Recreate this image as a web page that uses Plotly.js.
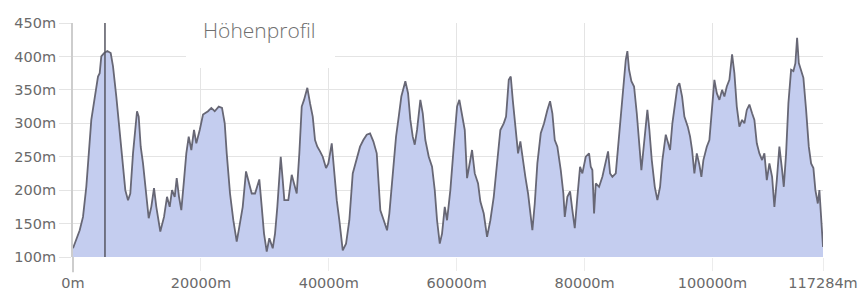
<!DOCTYPE html>
<html>
<head>
<meta charset="utf-8">
<script src="https://cdn.plot.ly/plotly-3.0.1.min.js"></script>
<style>
  html, body { margin: 0; padding: 0; background: #ffffff; }
  #chart { width: 862px; height: 291px; }
</style>
</head>
<body>
<div id="chart"></div>
<script>
// Distance along route (m)
const distance = [
  0, 1048, 1564, 2080, 2862, 3394, 3910, 4176, 4426, 4848, 5365, 5896, 6256, 6772, 7304, 7820,
  8180, 8602, 8962, 9384, 9650, 10010, 10275, 10588, 10948, 11370, 11840, 12246, 12668, 13028,
  13654, 14232, 14702, 15124, 15484, 15906, 16219, 16578, 16938, 17360, 17720, 18095, 18502,
  18924, 19284, 19816, 20332, 21114, 21630, 22162, 22787, 23304, 23726, 24039, 24555, 25071,
  25603, 26009, 26541, 27057, 27417, 27949, 28465, 29137, 29513, 29872, 30295, 30701, 31233,
  31593, 31953, 32484, 32797, 33047, 33673, 34205, 34564, 34987, 35393, 35769, 36128, 36645,
  37067, 37489, 37849, 38209, 38631, 39053, 39569, 39929, 40461, 40820, 41243, 41649, 42181,
  42697, 43213, 43745, 44371, 44887, 45403, 45935, 46451, 46967, 47499, 47702, 48062, 48593,
  49110, 49469, 50001, 50517, 50939, 51346, 51972, 52394, 52754, 53129, 53442, 53802, 54318,
  54693, 55100, 55631, 56148, 56570, 56930, 57352, 57712, 58134, 58494, 59010, 59541, 60058,
  60417, 60840, 61262, 61622, 61981, 62404, 62826, 63342, 63702, 64233, 64750, 65266, 65797,
  66314, 66830, 67361, 67721, 68143, 68456, 68769, 69176, 69598, 69958, 70333, 70740, 71162,
  71835, 72210, 72616, 73148, 73664, 74181, 74603, 74963, 75338, 75744, 76276, 76683, 76902,
  77308, 77731, 78090, 78466, 78872, 79295, 79654, 80186, 80702, 80968, 81219, 81484, 81750,
  82266, 82783, 83314, 83674, 83987, 84347, 84878, 85238, 85660, 86067, 86442, 86693, 86958,
  87318, 87740, 88163, 88522, 88882, 89195, 89570, 89820, 90133, 90509, 90978, 91385, 91807,
  92167, 92698, 93058, 93371, 93731, 94106, 94513, 94825, 95248, 95607, 96139, 96499, 96812,
  97171, 97547, 97953, 98266, 98579, 99110, 99517, 99940, 100299, 100675, 101081, 101504,
  101863, 102239, 102645, 103068, 103427, 103803, 104209, 104632, 104991, 105367, 105773,
  106196, 106555, 106931, 107337, 107760, 108119, 108495, 108901, 109324, 109683, 110059,
  110465, 110888, 111153, 111513, 111873, 112295, 112655, 112968, 113234, 113499, 113859,
  114219, 114641, 115063, 115423, 115783, 116096, 116471, 116721, 116987, 117284
];
// Elevation (m)
const elevation = [
  113, 140, 160, 205, 305, 340, 370, 375, 400, 405, 408, 405, 385, 340, 290, 240,
  200, 185, 195, 255, 285, 318, 310, 265, 240, 205, 158, 175, 203, 175,
  138, 160, 190, 175, 200, 190, 218, 190, 170, 215, 255, 280, 260,
  290, 270, 290, 313, 318, 323, 318, 325, 323, 300, 255, 195, 155,
  123, 145, 175, 228, 215, 195, 195, 216, 175, 135, 108, 128, 113,
  135, 175, 250, 215, 185, 185, 223, 210, 195, 255, 325, 335, 353,
  330, 310, 275, 265, 258, 250, 233, 240, 270, 225, 185, 155, 110,
  120, 155, 225, 245, 265, 275, 283, 285, 273, 255, 225, 170, 155,
  140, 165, 220, 280, 310, 340, 363, 345, 305, 280, 268, 290, 335,
  315, 275, 250, 235, 200, 155, 120, 135, 175, 155, 200, 265, 325,
  335, 310, 290, 218, 235, 260, 225, 210, 183, 165, 130, 155, 190,
  235, 290, 300, 310, 365, 370, 335, 295, 255, 273, 245, 220, 195,
  140, 180, 240, 285, 300, 320, 333, 315, 275, 265, 230, 195, 160,
  190, 198, 170, 143, 190, 235, 225, 250, 255, 235, 230, 165, 210,
  205, 220, 240, 258, 225, 220, 225, 265, 315, 365, 395, 408, 380,
  363, 355, 315, 265, 230, 260, 295, 320, 290, 245, 205, 185, 205,
  245, 283, 270, 260, 300, 330, 355, 360, 340, 310, 295, 280, 260,
  225, 255, 238, 220, 245, 265, 275, 330, 365, 345, 335, 350,
  340, 355, 365, 403, 375, 325, 295, 305, 300, 320, 328,
  315, 305, 270, 255, 245, 255, 215, 240, 220, 175, 215,
  265, 230, 205, 255, 330, 380, 378, 390, 428, 390, 380,
  368, 320, 265, 240, 233, 200, 180, 200, 155, 115
];
const totalDistance = 117284;
const xTickValues = [0, 20000, 40000, 60000, 80000, 100000, 117284];
const xTickLabels = ['0m', '20000m', '40000m', '60000m', '80000m', '100000m', '117284m'];
const yTickValues = [100, 150, 200, 250, 300, 350, 400, 450];
const yTickLabels = ['100m', '150m', '200m', '250m', '300m', '350m', '400m', '450m'];
const markerDistance = [5000];
const chartTitle = 'Höhenprofil';

const trace = {
  type: 'scatter',
  mode: 'lines',
  x: distance,
  y: elevation,
  fill: 'tozeroy',
  fillcolor: '#c4cdef',
  line: { color: '#676775', width: 1.8 },
  hoverinfo: 'skip'
};

const tickFont = { family: 'DejaVu Sans, sans-serif', size: 14.5, color: '#6a6a6a' };

const layout = {
  width: 862,
  height: 291,
  margin: { l: 73, r: 39, t: 23, b: 34 },
  paper_bgcolor: '#ffffff',
  plot_bgcolor: '#ffffff',
  showlegend: false,
  xaxis: {
    range: [0, totalDistance],
    tickmode: 'array',
    tickvals: xTickValues,
    ticktext: xTickLabels,
    showgrid: true,
    gridcolor: '#e4e4e4',
    gridwidth: 1,
    zeroline: false,
    ticks: 'outside',
    ticklen: 13,
    tickcolor: '#ececec',
    tickfont: tickFont,
    showline: false,
    fixedrange: true
  },
  yaxis: {
    range: [100, 450],
    tickmode: 'array',
    tickvals: yTickValues,
    ticktext: yTickLabels,
    showgrid: true,
    gridcolor: '#e4e4e4',
    gridwidth: 1,
    zeroline: false,
    ticks: 'outside',
    ticklen: 12,
    tickcolor: '#e4e4e4',
    tickfont: tickFont,
    showline: true,
    linecolor: '#cdcdcd',
    linewidth: 2,
    fixedrange: true
  },
  shapes: [
    {
      type: 'line', xref: 'paper', yref: 'paper',
      x0: 0, x1: 0, y0: -0.065, y1: 0,
      line: { color: '#cdcdcd', width: 2 }
    },
    {
      type: 'rect', xref: 'paper', yref: 'paper',
      x0: 0.1507, x1: 0.3493, y0: 0.8077, y1: 1.013,
      fillcolor: '#ffffff', line: { width: 0 }, layer: 'above'
    },
    {
      type: 'line', xref: 'x', yref: 'paper',
      x0: markerDistance[0], x1: markerDistance[0], y0: 0, y1: 1,
      line: { color: '#555560', width: 1.5 }, layer: 'above'
    }
  ],
  annotations: [
    {
      text: chartTitle,
      xref: 'paper', yref: 'paper',
      x: 0.248, y: 0.970,
      xanchor: 'center', yanchor: 'middle',
      showarrow: false,
      font: { family: 'Open Sans, sans-serif', size: 21, color: '#6f6f6f', weight: 300 }
    }
  ]
};

Plotly.newPlot('chart', [trace], layout, { displayModeBar: false, staticPlot: true });
</script>
</body>
</html>
